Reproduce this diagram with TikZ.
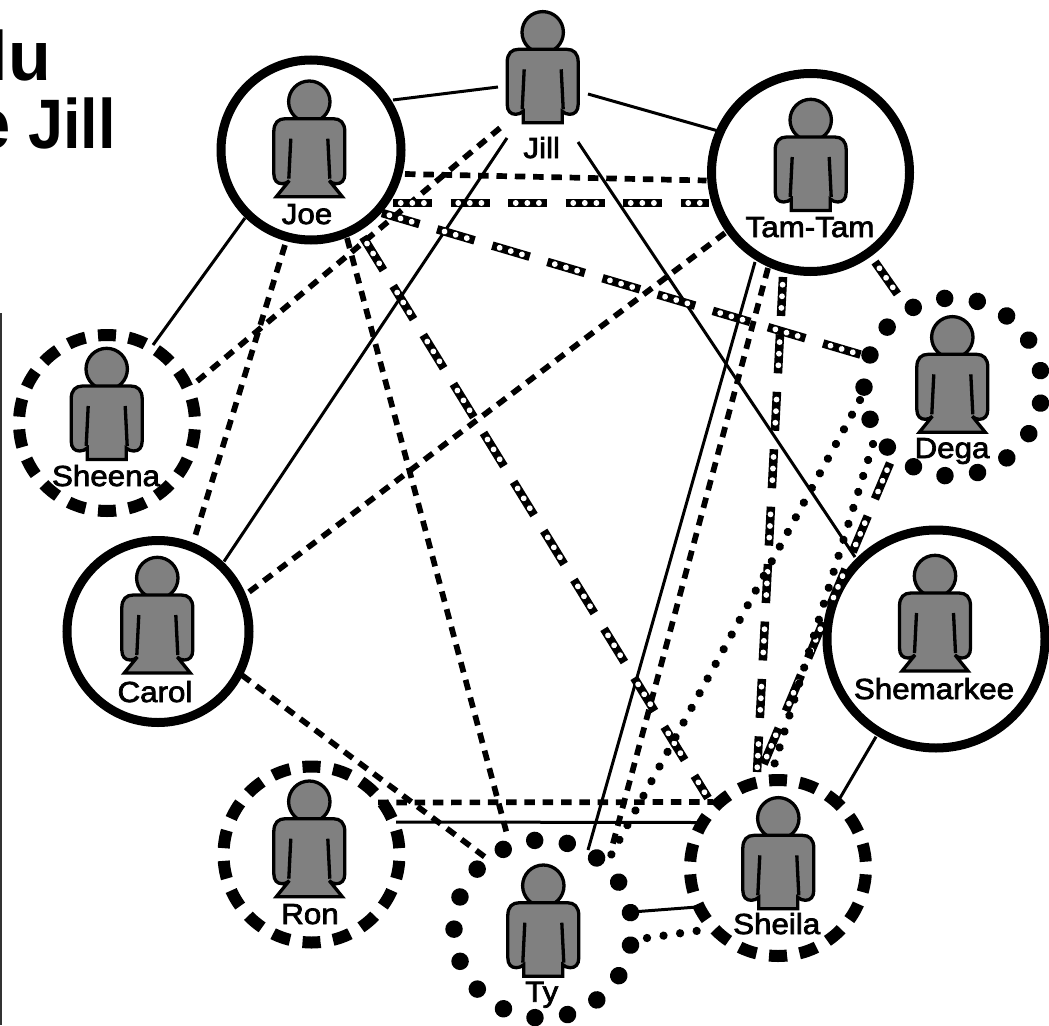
\documentclass[tikz,border=0pt]{standalone}
\usepackage{fontspec}
\setmainfont{Liberation Sans}
\newfontfamily\labfont[FakeBold=2.5,FakeStretch=1.08]{Liberation Sans}
\tikzset{
  figline/.style={draw=black,line width=3.3pt,fill=figgray,line join=miter,miter limit=3},
  ringbase/.style={circle,inner sep=0pt,outer sep=0pt,minimum size=#1},
  solidring/.style={ringbase=#1,draw=black,line width=9pt},
  dashring/.style={ringbase=#1,draw=black,line width=12pt,dash pattern=on 18pt off 12.72pt,dash phase=24.36pt},
  dotring/.style={ringbase=#1,draw=black,line width=17.5pt,line cap=round,dash pattern=on 0.01pt off 32.9pt,dash phase=16.45pt},
  hidden/.style={ringbase=#1},
  nametag/.style={anchor=base,inner sep=0pt,font=\labfont\fontsize{29}{29}\selectfont},
  titletext/.style={anchor=base east,inner sep=0pt,font=\bfseries\fontsize{70}{70}\selectfont},
  solidlink/.style={draw=black,line width=3pt},
  dashlink/.style={draw=black,line width=5.7pt,dash pattern=on 10.5pt off 7.8pt},
  dotlink/.style={draw=black,line width=8.3pt,line cap=round,dash pattern=on 0.01pt off 16.7pt},
  beadlink/.style={draw=black,line width=8.5pt,dash pattern=on 39pt off 18.5pt,
    postaction={draw=white,line width=5.8pt,line cap=round,
      dash pattern=on 0.01pt off 11.6pt on 0.01pt off 11.6pt on 0.01pt off 34.27pt,dash phase=49.8pt}},
  femalefig/.pic={
    \draw[figline] (0,0) circle[radius=20.7pt];
    \draw[figline] (-35.5,30) .. controls (-35.5,21) and (-31,17) .. (-24,17) -- (24,17)
      .. controls (31,17) and (35.5,21) .. (35.5,30) -- (35.5,72)
      .. controls (35.5,79) and (32,82) .. (27,82) .. controls (24,82) and (22,81) .. (20,79)
      -- (33,95) -- (-33,95) -- (-20,79)
      .. controls (-22,81) and (-24,82) .. (-27,82) .. controls (-32,82) and (-35.5,79) .. (-35.5,72) -- cycle;
    \draw[line width=3.3pt] (-18.5,37) -- (-20.5,77) (18.5,37) -- (20.5,77);
  },
  malefig/.pic={
    \draw[figline] (0,0) circle[radius=20.7pt];
    \draw[figline] (-35.5,30) .. controls (-35.5,21) and (-31,17) .. (-24,17) -- (24,17)
      .. controls (31,17) and (35.5,21) .. (35.5,30) -- (35.5,72)
      .. controls (35.5,79) and (32,82) .. (27,82) .. controls (24,82) and (22,81) .. (19.5,79)
      -- (19.5,90.5) -- (-19.5,90.5) -- (-19.5,79)
      .. controls (-22,81) and (-24,82) .. (-27,82) .. controls (-32,82) and (-35.5,79) .. (-35.5,72) -- cycle;
    \draw[line width=3.3pt] (-18.5,37) -- (-20.5,77) (18.5,37) -- (20.5,77);
  },
}
\definecolor{figgray}{HTML}{808080}
\begin{document}
\begin{tikzpicture}[x=1pt,y=-1pt]
\useasboundingbox (0,0) rectangle (1049,1025);
\clip (0,0) rectangle (1049,1025);
% title fragments and page edge
\node[titletext] (titleA) at (51,81) {lu};
\node[titletext,xscale=0.9,transform shape] (titleB) at (116,148) {e Jill};
\fill[black!80] (0,313) rectangle (2,1025);
% people circles
\node[solidring=180pt] (joe) at (311,150) {};
\node[solidring=198pt] (tam) at (810.5,172.5) {};
\node[hidden=90pt] (jill) at (543,85) {};
\node[dashring=176pt] (sheena) at (107,423) {};
\node[solidring=182pt] (carol) at (158,631.5) {};
\node[dashring=176pt] (ron) at (311.5,854.5) {};
\node[dotring=178pt] (ty) at (543,929) {};
\node[dashring=176pt] (sheila) at (778,868) {};
\node[solidring=218pt] (shem) at (936,639) {};
\node[dotring=178pt] (dega) at (953,387) {};
% figures
\pic at (309.3,101.7) {femalefig};
\pic at (810.7,120) {malefig};
\pic at (542.7,32.3) {malefig};
\pic at (106.7,369) {malefig};
\pic at (157.3,578) {femalefig};
\pic at (309.3,801.7) {femalefig};
\pic at (543.3,885.7) {malefig};
\pic at (778.3,818.3) {malefig};
\pic at (935,576) {femalefig};
\pic at (952.3,337.3) {femalefig};
% solid links
\path[solidlink] ([shift={(82,-50)}]joe.center) -- ([shift={(-45,2)}]jill.center);
\path[solidlink] ([shift={(45,9)}]jill.center) -- ([shift={(-94,-42)}]tam.center);
\path[solidlink] ([shift={(-66,68)}]joe.center) -- ([shift={(46,-78)}]sheena.center);
\path[solidlink] ([shift={(-36,53)}]jill.center) -- ([shift={(66,-70)}]carol.center);
\path[solidlink] ([shift={(35,57)}]jill.center) -- ([shift={(-81,-82)}]shem.center);
\path[solidlink] ([shift={(-55.5,89.5)}]tam.center) -- ([shift={(45,-79)}]ty.center);
\path[solidlink] ([shift={(84.5,-32.5)}]ron.center) -- ([shift={(-81,-45.5)}]sheila.center);
\path[solidlink] ([shift={(-60,97.7)}]shem.center) -- ([shift={(62,-70)}]sheila.center);
\path[solidlink] ([shift={(89,-17)}]ty.center) -- ([shift={(-81,39)}]sheila.center);
% dashed links
\path[dashlink] ([shift={(94,24)}]joe.center) -- ([shift={(-104,8)}]tam.center);
\path[dashlink] ([shift={(36,88)}]joe.center) -- ([shift={(-35,-91)}]ty.center);
\path[dashlink] ([shift={(-26,95)}]joe.center) -- ([shift={(37,-95)}]carol.center);
\path[dashlink] ([shift={(-43,43)}]jill.center) -- ([shift={(88,-40)}]sheena.center);
\path[dashlink] ([shift={(-85.5,60.5)}]tam.center) -- ([shift={(87,-36.5)}]carol.center);
\path[dashlink] ([shift={(83.7,43.5)}]carol.center) -- ([shift={(-58,-72)}]ty.center);
\path[dashlink] ([shift={(66.5,-52)}]ron.center) -- ([shift={(-65,-66)}]sheila.center);
\path[dashlink] ([shift={(-42.5,95.5)}]tam.center) -- ([shift={(69,-82)}]ty.center);
% beaded links
\path[beadlink] ([shift={(82,53)}]joe.center) -- ([shift={(-102,30.5)}]tam.center);
\path[beadlink] ([shift={(71,63)}]joe.center) -- ([shift={(-91,-32)}]dega.center);
\path[beadlink] ([shift={(52,87)}]joe.center) -- ([shift={(-70,-70)}]sheila.center);
\path[beadlink] ([shift={(64.5,89.5)}]tam.center) -- ([shift={(-50,-85)}]dega.center);
\path[beadlink] ([shift={(-27.5,104.5)}]tam.center) -- ([shift={(-21,-96)}]sheila.center);
\path[beadlink] ([shift={(-63,76)}]dega.center) -- ([shift={(-16,-100)}]sheila.center);
% dotted links
\path[dotlink] ([shift={(-93,13)}]dega.center) -- ([shift={(67,-72)}]ty.center);
\path[dotlink] ([shift={(-80,57)}]dega.center) -- ([shift={(-6,-96)}]sheila.center);
\path[dotlink] ([shift={(104,9)}]ty.center) -- ([shift={(-75,62)}]sheila.center);
% names
\node[nametag] (joeL) at (307,224) {Joe};
\node[nametag] (tamL) at (810,237) {Tam-Tam};
\node[nametag] (jillL) at (541.7,158) {Jill};
\node[nametag] (sheenaL) at (106,486) {Sheena};
\node[nametag] (carolL) at (155,702) {Carol};
\node[nametag] (ronL) at (310,924) {Ron};
\node[nametag] (tyL) at (541.7,1001.7) {Ty};
\node[nametag] (sheilaL) at (776.7,934) {Sheila};
\node[nametag] (shemL) at (934,699) {Shemarkee};
\node[nametag] (degaL) at (952,458) {Dega};
\end{tikzpicture}
\end{document}
